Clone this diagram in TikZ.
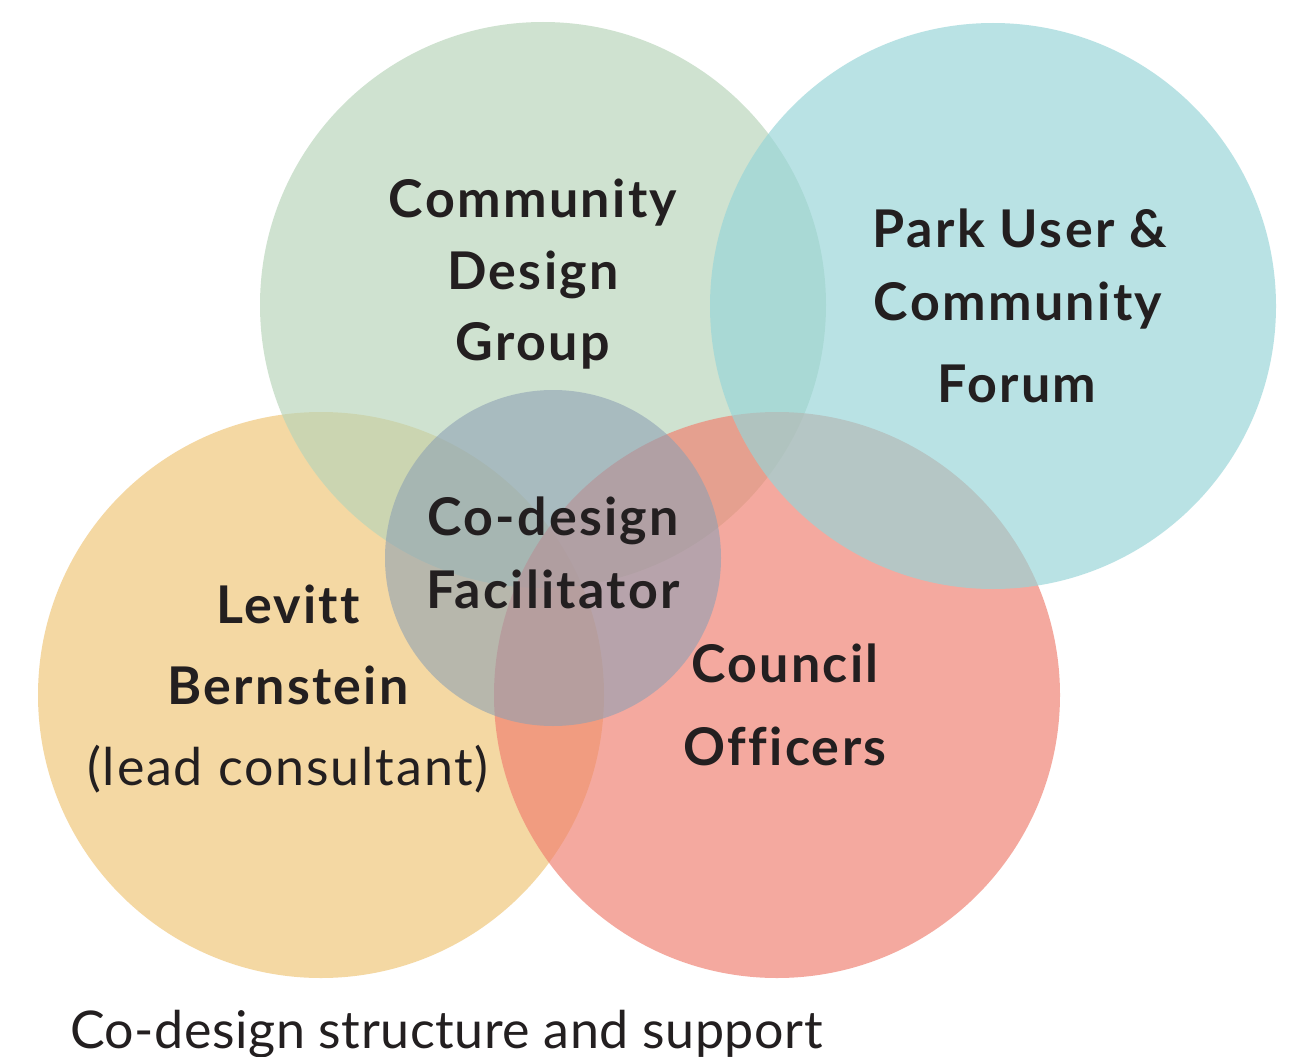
\documentclass[tikz,border=0pt]{standalone}
\usepackage{fontspec}
\setmainfont{Lato}[Ligatures=NoCommon]
\definecolor{cgreen}{RGB}{184,213,185}
\definecolor{cteal}{RGB}{151,213,216}
\definecolor{corange}{RGB}{240,197,118}
\definecolor{cred}{RGB}{240,128,112}
\definecolor{csmall}{RGB}{140,160,180}
\definecolor{ctext}{RGB}{35,31,32}
\tikzset{
  bigcirc/.style={circle, inner sep=0pt, minimum size=566pt, fill opacity=0.67},
  smallcirc/.style={circle, inner sep=0pt, minimum size=336pt, fill=csmall, fill opacity=0.58},
  lbl/.style={anchor=base, inner sep=0pt, text=ctext, font=\bfseries\fontsize{52}{52}\selectfont\addfontfeature{LetterSpace=4.5}},
  lblreg/.style={anchor=base, inner sep=0pt, text=ctext, font=\fontsize{52}{52}\selectfont\addfontfeature{LetterSpace=3.5}},
  captxt/.style={anchor=base west, inner sep=0pt, text=ctext, font=\fontsize{52}{52}\selectfont\addfontfeature{LetterSpace=1}},
}
\begin{document}
\begin{tikzpicture}[x=1pt,y=-1pt]
\useasboundingbox (0,0) rectangle (1299,1057);
\fill[white] (0,0) rectangle (1299,1057);
% circles
\node[bigcirc, fill=corange] (lb) at (321,695) {};
\node[bigcirc, fill=cgreen] (cdg) at (543,305) {};
\node[bigcirc, fill=cred] (co) at (777,695) {};
\node[bigcirc, fill=cteal] (pu) at (993,306) {};
\node[smallcirc] (cf) at (553,558) {};
% labels
\node[lbl] (cdg1) at (533,217) {Community};
\node[lbl] (cdg2) at (533,289) {Design};
\node[lbl] (cdg3) at (533,360) {Group};
\node[lbl] (pu1) at (1020,247) {Park User \&};
\node[lbl] (pu2) at (1018,320) {Community};
\node[lbl] (pu3) at (1017,402) {Forum};
\node[lbl] (cf1) at (553,535) {Co-design};
\node[lbl] (cf2) at (553,608) {Facilitator};
\node[lbl] (lb1) at (288,623) {Levitt};
\node[lbl] (lb2) at (288,704) {Bernstein};
\node[lblreg] (lb3) at (288,785) {(lead consultant)};
\node[lbl] (co1) at (785,682) {Council};
\node[lbl] (co2) at (785,765) {Officers};
\node[captxt] (cap) at (70,1048) {Co-design structure and support};
\end{tikzpicture}
\end{document}
